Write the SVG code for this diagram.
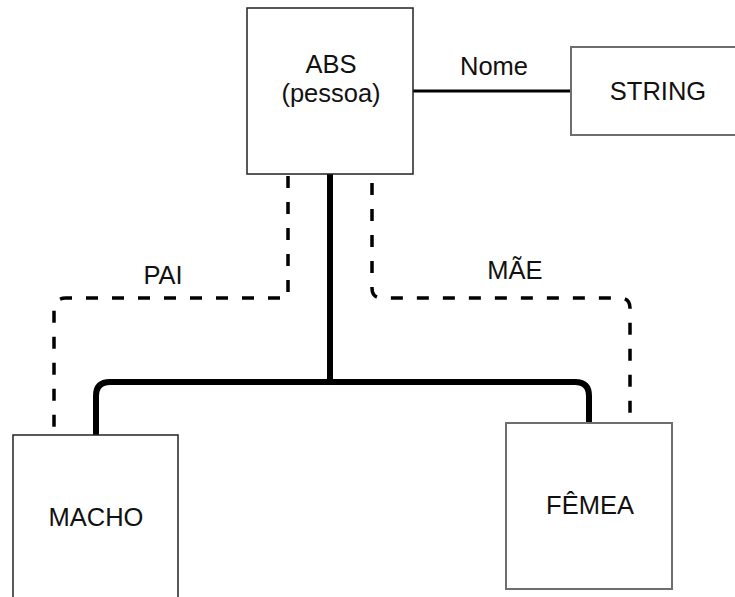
<svg xmlns="http://www.w3.org/2000/svg" width="735" height="597" viewBox="0 0 735 597">
<style>
.box{fill:#fff;stroke:#222;stroke-width:1.5}
.gbox{fill:#fff;stroke:#6e6e6e;stroke-width:2}
text{font-family:"Liberation Sans",Arial,sans-serif;font-size:25.5px;fill:#111;text-anchor:middle}
.thick{fill:none;stroke:#000;stroke-width:6}
.thin{fill:none;stroke:#000;stroke-width:3}
.dash{fill:none;stroke:#000;stroke-width:3.5;stroke-dasharray:12 14}
</style>
<rect width="735" height="597" fill="#fff"/>
<g id="connectors">
<path class="thick" d="M330 174 V382"/>
<path class="thick" d="M96 435 V396 Q96 382 110 382 H575 Q589 382 589 396 V423"/>
<path class="thin" d="M413 91 H571"/>
<path class="dash" d="M288 176 V298 H66 Q54 298 54 310 V435"/>
<path class="dash" d="M372 183 V288 Q372 298 382 298 H620 Q630 298 630 308 V423"/>
<text x="163" y="284">PAI</text>
<text x="515" y="279">MÃE</text>
<text x="494" y="75">Nome</text>
</g>
<g id="abs">
<rect class="box" x="247" y="8" width="166" height="166"/>
<text x="331" y="73">ABS</text>
<text x="331" y="102">(pessoa)</text>
</g>
<g id="string">
<rect class="gbox" x="571" y="47" width="170" height="88"/>
<text x="658" y="100">STRING</text>
</g>
<g id="macho">
<rect class="box" x="13" y="435" width="165" height="170"/>
<text x="96" y="526">MACHO</text>
</g>
<g id="femea">
<rect class="gbox" x="506" y="423" width="166" height="166"/>
<text x="590" y="514">FÊMEA</text>
</g>
</svg>
